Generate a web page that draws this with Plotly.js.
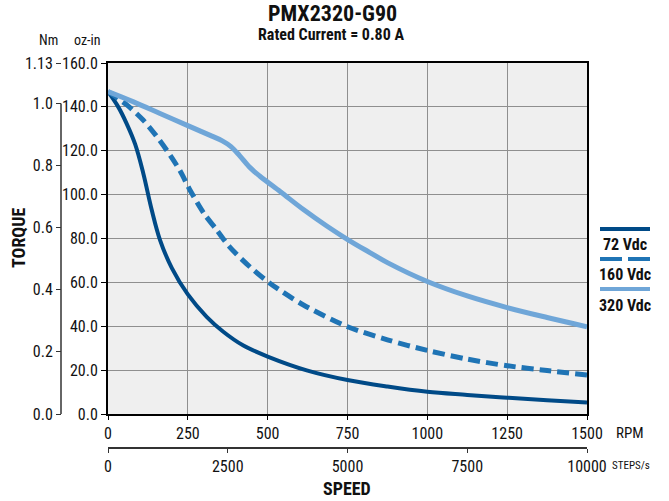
<!DOCTYPE html>
<html>
<head>
<meta charset="utf-8">
<script src="https://cdn.plot.ly/plotly-3.0.1.min.js"></script>
<style>html,body{margin:0;padding:0;background:#fff;}#chart{width:669px;height:501px;}</style>
</head>
<body>
<div id="chart"></div>
<script>
// ---- data (speed in RPM, torque in oz-in) ----
const rpm72 = [0, 32, 58, 85, 110, 137, 163, 200, 250, 309, 361, 424, 500, 625, 750, 875, 1000, 1125, 1250, 1375, 1500];
const torque72 = [147, 140, 132.5, 123, 110, 93, 79.3, 66.5, 54.5, 44.3, 37.5, 31.2, 26.2, 19.8, 15.5, 12.5, 10.1, 8.7, 7.4, 6.3, 5.2];

const rpm160 = [0, 58, 110, 150, 185, 225, 257, 300, 340, 380, 445, 510, 612, 750, 875, 1000, 1125, 1250, 1375, 1500];
const torque160 = [147, 141, 134, 127, 120, 111, 102, 91.5, 84, 76.3, 67, 59.3, 49.7, 39.8, 33.8, 29, 25, 22, 19.8, 17.8];

const rpm320 = [0, 80, 163, 257, 320, 358, 385, 412, 445, 475, 540, 612, 685, 753, 820, 875, 1000, 1125, 1250, 1375, 1500];
const torque320 = [147, 142.3, 137, 131, 127, 124.5, 121.9, 117.8, 112.3, 108.5, 101.3, 93.2, 85.7, 79.3, 73.6, 69, 60.4, 53.8, 48.5, 44, 39.8];

const seriesNames = ["72 Vdc", "160 Vdc", "320 Vdc"];
const rpmTicks = [0, 250, 500, 750, 1000, 1250, 1500];
const stepsTicks = [0, 2500, 5000, 7500, 10000];
const ozTicks = [0, 20, 40, 60, 80, 100, 120, 140, 160];
const nmTicks = [0, 0.2, 0.4, 0.6, 0.8, 1.0, 1.13];
const nmTickText = ["0.0", "0.2", "0.4", "0.6", "0.8", "1.0", "1.13"];

// ---- styling ----
const FONT = "'Liberation Sans Narrow', 'Arial Narrow', 'Roboto Condensed', 'Liberation Sans', sans-serif";
const C72 = "#004a87", C160 = "#1f74b5", C320 = "#6fa6d8";
const W = 669, H = 501;
const M = {l: 10, r: 82, t: 63, b: 30};
const PW = W - M.l - M.r, PH = H - M.t - M.b;
const px = x => (x - M.l) / PW;          // pixel -> paper x
const py = y => (H - M.b - y) / PH;      // pixel -> paper y

const traces = [
  {x: rpm72, y: torque72, name: seriesNames[0], mode: "lines", line: {color: C72, width: 4, shape: "spline", smoothing: 1}, hoverinfo: "x+y"},
  {x: rpm160, y: torque160, name: seriesNames[1], mode: "lines", line: {color: C160, width: 5, shape: "spline", smoothing: 0.8, dash: "12px,6px"}, hoverinfo: "x+y"},
  {x: rpm320, y: torque320, name: seriesNames[2], mode: "lines", line: {color: C320, width: 5, shape: "spline", smoothing: 1}, hoverinfo: "x+y"},
  {x: [], y: [], xaxis: "x2", yaxis: "y2", mode: "lines", showlegend: false, hoverinfo: "skip"}
];

const tickFont = {family: FONT, size: 16, color: "#111"};
const layout = {
  width: W, height: H,
  margin: M,
  paper_bgcolor: "#ffffff",
  plot_bgcolor: "#efefef",
  showlegend: false,
  font: {family: FONT, color: "#111"},
  xaxis: {
    domain: [px(108), 1], range: [0, 1500], tickvals: rpmTicks, ticktext: rpmTicks.map(String),
    showline: true, linecolor: "#000", linewidth: 2, mirror: true,
    showgrid: true, gridcolor: "#8f8f8f", gridwidth: 1, zeroline: false,
    ticks: "outside", ticklen: 4, tickcolor: "#000", tickfont: tickFont, anchor: "y"
  },
  yaxis: {
    domain: [py(414), 1], range: [0, 160], tickvals: ozTicks, ticktext: ozTicks.map(v => v.toFixed(1)),
    showline: true, linecolor: "#000", linewidth: 2, mirror: true,
    showgrid: true, gridcolor: "#8f8f8f", gridwidth: 1, zeroline: false,
    ticks: "outside", ticklen: 5, tickcolor: "#000", tickfont: tickFont, anchor: "x"
  },
  xaxis2: {
    overlaying: "x", anchor: "free", position: py(447), range: [0, 10000],
    tickvals: stepsTicks, ticktext: stepsTicks.map(String),
    showline: true, linecolor: "#333", linewidth: 1.5, showgrid: false, zeroline: false,
    ticks: "outside", ticklen: 4, tickcolor: "#333", tickfont: tickFont, side: "bottom"
  },
  yaxis2: {
    overlaying: "y", anchor: "free", position: px(61), side: "left", range: [0, 1.13],
    tickvals: nmTicks, ticktext: nmTickText,
    showline: false, showgrid: false, zeroline: false,
    ticks: "outside", ticklen: 5, tickcolor: "#333", tickfont: tickFont
  },
  shapes: [
    {type: "line", xref: "paper", yref: "y2", x0: px(61), x1: px(61), y0: 0, y1: 1.0, line: {color: "#333", width: 1.5}},
    {type: "line", xref: "paper", yref: "paper", x0: px(600), x1: px(650), y0: py(229), y1: py(229), line: {color: C72, width: 4}},
    {type: "line", xref: "paper", yref: "paper", x0: px(600), x1: px(650), y0: py(259), y1: py(259), line: {color: C160, width: 4, dash: "22px,6px"}},
    {type: "line", xref: "paper", yref: "paper", x0: px(600), x1: px(650), y0: py(289), y1: py(289), line: {color: C320, width: 4}}
  ],
  annotations: [
    {text: "<b>PMX2320-G90</b>", xref: "paper", yref: "paper", x: px(332), y: py(13), showarrow: false, font: {family: FONT, size: 22, color: "#111"}, xanchor: "center", yanchor: "middle"},
    {text: "<b>Rated Current = 0.80 A</b>", xref: "paper", yref: "paper", x: px(331), y: py(34), showarrow: false, font: {family: FONT, size: 16, color: "#111"}, xanchor: "center", yanchor: "middle"},
    {text: "Nm", xref: "paper", yref: "paper", x: px(48), y: py(40), showarrow: false, font: {family: FONT, size: 14, color: "#111"}, xanchor: "center", yanchor: "middle"},
    {text: "oz-in", xref: "paper", yref: "paper", x: px(87), y: py(40), showarrow: false, font: {family: FONT, size: 14, color: "#111"}, xanchor: "center", yanchor: "middle"},
    {text: "<b>TORQUE</b>", xref: "paper", yref: "paper", x: px(18), y: py(238), showarrow: false, textangle: -90, font: {family: FONT, size: 18, color: "#111"}, xanchor: "center", yanchor: "middle"},
    {text: "RPM", xref: "paper", yref: "paper", x: px(614), y: py(433), showarrow: false, font: {family: FONT, size: 15, color: "#111"}, xanchor: "left", yanchor: "middle"},
    {text: "STEPS/s", xref: "paper", yref: "paper", x: px(610), y: py(465), showarrow: false, font: {family: FONT, size: 11, color: "#111"}, xanchor: "left", yanchor: "middle"},
    {text: "<b>SPEED</b>", xref: "paper", yref: "paper", x: px(347), y: py(488), showarrow: false, font: {family: FONT, size: 18, color: "#111"}, xanchor: "center", yanchor: "middle"},
    {text: "<b>" + seriesNames[0] + "</b>", xref: "paper", yref: "paper", x: px(625), y: py(244), showarrow: false, font: {family: FONT, size: 16, color: "#111"}, xanchor: "center", yanchor: "middle"},
    {text: "<b>" + seriesNames[1] + "</b>", xref: "paper", yref: "paper", x: px(625), y: py(274), showarrow: false, font: {family: FONT, size: 16, color: "#111"}, xanchor: "center", yanchor: "middle"},
    {text: "<b>" + seriesNames[2] + "</b>", xref: "paper", yref: "paper", x: px(625), y: py(305), showarrow: false, font: {family: FONT, size: 16, color: "#111"}, xanchor: "center", yanchor: "middle"}
  ]
};

Plotly.newPlot("chart", traces, layout, {displayModeBar: false, staticPlot: true});
</script>
</body>
</html>
